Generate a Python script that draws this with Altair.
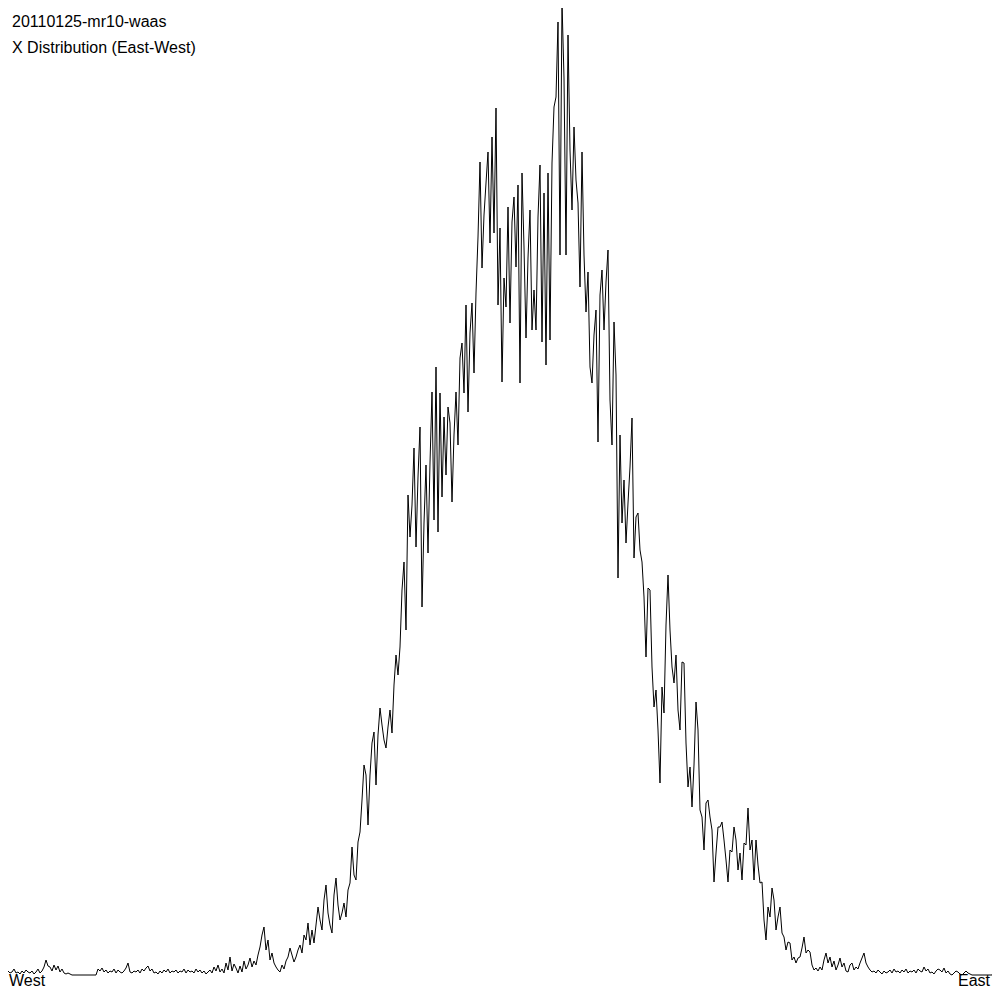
import altair as alt
import pandas as pd

# Histogram counts, one sample every 2 px along the East-West axis (bin index * 2)
seg_000 = [3, 5, 2, 1, 4, 2, 3, 6, 2, 3, 1, 4, 2, 5, 3, 2, 4, 1, 3, 6, 2, 4, 8, 15, 9]
seg_050 = [8, 4, 10, 5, 9, 3, 6, 2, 1, 2, 1, 0, 0, 0, 0, 0, 0, 0, 0, 0, 0, 0, 0, 0, 6]
seg_100 = [4, 7, 3, 5, 2, 4, 3, 6, 2, 5, 3, 2, 4, 7, 12, 3, 2, 4, 3, 5, 2, 6, 4, 7, 9]
seg_150 = [4, 6, 2, 3, 1, 4, 2, 5, 3, 6, 2, 4, 3, 5, 2, 4, 3, 6, 2, 5, 3, 4, 2, 6, 3]
seg_200 = [5, 2, 4, 1, 3, 5, 2, 8, 4, 10, 3, 6, 2, 12, 5, 18, 4, 11, 7, 2, 9, 3, 14, 6, 10]
seg_250 = [17, 8, 14, 10, 20, 28, 40, 48, 25, 35, 15, 22, 12, 8, 5, 3, 10, 6, 14, 18, 27, 20, 13, 18, 25]
seg_300 = [30, 22, 40, 35, 52, 30, 45, 32, 50, 68, 55, 45, 75, 90, 62, 50, 42, 80, 97, 70, 55, 62, 72, 58, 85]
seg_350 = [92, 128, 100, 95, 133, 143, 175, 210, 200, 150, 200, 232, 243, 190, 240, 267, 250, 235, 227, 248, 265, 242, 290, 320, 300]
seg_400 = [328, 385, 413, 345, 480, 438, 470, 527, 428, 498, 548, 368, 452, 510, 422, 512, 583, 455, 608, 443, 582, 478, 558, 500, 568]
seg_450 = [552, 473, 540, 583, 530, 617, 632, 582, 670, 563, 642, 672, 602, 682, 738, 813, 707, 760, 792, 823, 732, 838, 742, 867, 670]
seg_500 = [747, 593, 697, 668, 768, 652, 753, 778, 708, 790, 592, 802, 728, 637, 717, 765, 645, 685, 645, 758, 810, 633, 782, 610, 802]
seg_550 = [635, 812, 868, 878, 953, 720, 973, 897, 720, 940, 825, 765, 848, 795, 772, 688, 823, 720, 663, 703, 608, 592, 640, 665, 533]
seg_600 = [680, 705, 645, 693, 725, 575, 530, 653, 600, 397, 540, 452, 495, 432, 472, 508, 557, 417, 458, 462, 425, 413, 378, 318, 387]
seg_650 = [385, 308, 268, 285, 245, 192, 288, 262, 350, 400, 345, 308, 292, 320, 265, 245, 313, 312, 232, 188, 208, 168, 210, 273, 245]
seg_700 = [165, 158, 125, 172, 175, 158, 145, 93, 122, 148, 148, 153, 135, 115, 93, 125, 123, 148, 135, 105, 122, 95, 132, 130, 167]
seg_750 = [125, 135, 95, 135, 110, 92, 93, 55, 35, 68, 58, 87, 75, 45, 58, 68, 42, 38, 25, 33, 32, 15, 18, 12, 17]
seg_800 = [18, 27, 38, 22, 25, 23, 10, 5, 7, 4, 8, 5, 15, 22, 12, 18, 8, 14, 5, 10, 17, 8, 12, 4, 3]
seg_850 = [10, 12, 5, 8, 6, 12, 17, 22, 12, 8, 5, 3, 4, 2, 5, 3, 1, 4, 2, 3, 5, 2, 6, 3, 4]
seg_900 = [2, 5, 3, 6, 2, 4, 3, 5, 2, 6, 4, 3, 8, 4, 6, 2, 3, 1, 4, 6, 5, 3, 7, 2, 4]
seg_950 = [1, 0, 2, 4, 3, 1, 0, 2, 4, 2, 1, 0, 0, 0, 0, 0, 0, 0, 0, 0, 0, 0, 3, 5, 2]

counts = (seg_000 + seg_050 + seg_100 + seg_150 + seg_200 + seg_250 + seg_300 + seg_350
          + seg_400 + seg_450 + seg_500 + seg_550 + seg_600 + seg_650 + seg_700 + seg_750
          + seg_800 + seg_850 + seg_900 + seg_950)
positions = [2 * i for i in range(len(counts))]

title_lines = ["20110125-mr10-waas", "X Distribution (East-West)"]
left_label = "West"
right_label = "East"

df = pd.DataFrame({"x": positions, "v": counts})

W, H = 984, 984
FONT = "Liberation Sans"

line = alt.Chart(df).mark_line(color="black", strokeWidth=1, interpolate="linear", clip=True).encode(
    x=alt.X("x:Q", scale=alt.Scale(domain=[8, 992], nice=False, zero=False), axis=None),
    y=alt.Y("v:Q", scale=alt.Scale(domain=[-17, 967], nice=False, zero=False), axis=None),
)

def label(txt, x, y, align="left"):
    return alt.Chart(pd.DataFrame({"t": [txt]})).mark_text(
        align=align, baseline="alphabetic", font=FONT, fontSize=16, color="black"
    ).encode(x=alt.value(x), y=alt.value(y), text="t:N")

chart = alt.layer(
    line,
    label(title_lines[0], 4, 19),
    label(title_lines[1], 4, 45),
    label(left_label, 1, 978),
    label(right_label, 982, 978, align="right"),
).properties(
    width=W, height=H, padding=0,
    autosize=alt.AutoSizeParams(type="none"),
).configure_view(stroke=None)

chart.save("out.html", embed_options={"renderer": "svg", "actions": False})
